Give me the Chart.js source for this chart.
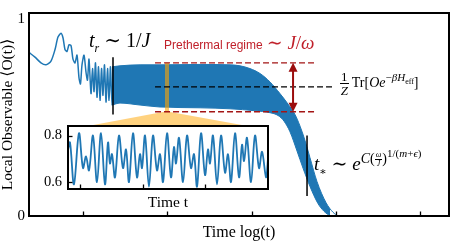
<!DOCTYPE html>
<html><head><meta charset="utf-8">
<script src="https://cdn.jsdelivr.net/npm/chart.js@4.4.1/dist/chart.umd.min.js"></script>
<style>
html,body{margin:0;padding:0;background:#fff;}
#wrap{position:relative;width:471px;height:252px;overflow:hidden;background:#fff;}
canvas{position:absolute;left:0;top:0;}
.ann{position:absolute;white-space:nowrap;font-family:'Liberation Serif','DejaVu Serif',serif;color:#000;line-height:1;}
.ann sub,.ann sup{line-height:0;}
.frac{display:inline-flex;flex-direction:column;align-items:center;vertical-align:middle;line-height:1;}
.frac>span:first-child{border-bottom:1px solid currentColor;padding:0 1px;}
</style></head>
<body><div id="wrap">
<canvas id="main" width="471" height="252"></canvas>
<canvas id="inset" width="471" height="252"></canvas>
<div class="ann" style="left:89px;top:30px;font-size:20px"><i>t</i><sub style="font-size:12px"><i>r</i></sub> ∼ 1/<i>J</i></div>
<div class="ann" style="left:164px;top:33px;color:#c0202a"><span style="font-family:'Liberation Sans',sans-serif;font-size:12px">Prethermal regime</span> <span style="font-size:19px">∼ <i>J</i>/<i>ω</i></span></div>
<div class="ann" style="left:340px;top:70px;font-size:14px"><span class="frac" style="font-size:13px"><span>1</span><span><i>Z</i></span></span> Tr[<i>Oe</i><sup style="font-size:11px">−<i>βH</i><sub style="font-size:8px">eff</sub></sup>]</div>
<div class="ann" style="left:314px;top:151px;font-size:19px"><i>t</i><sub style="font-size:11px">∗</sub> ∼ <i>e</i><sup style="font-size:14px"><i>C</i>(<span class="frac" style="font-size:8px"><span><i>ω</i></span><span><i>J</i></span></span>)<sup style="font-size:11px">1/(<i>m</i>+<i>ϵ</i>)</sup></sup></div>
</div>
<script>
// ---------- data ----------
const xTickValues = [1, 2, 3, 4, 5];
const yTickValues = [0, 1];
const yTickLabels = ['0', '1'];

// early-time signal (log t, <O>)
const earlyLogT = [0.359,0.430,0.501,0.561,0.620,0.668,0.703,0.739,0.763,0.786,0.810,0.834,0.858,0.881,0.905,0.929,0.953,0.970,0.988,1.012,1.036,1.053,1.071,1.095,1.113,1.131,1.148,1.166,1.184,1.202,1.220,1.237,1.255,1.273,1.291,1.309,1.326,1.344,1.362];
const earlyObs  = [0.830,0.806,0.777,0.767,0.786,0.845,0.908,0.927,0.903,0.845,0.835,0.869,0.864,0.796,0.777,0.816,0.699,0.670,0.767,0.816,0.728,0.689,0.796,0.621,0.748,0.631,0.777,0.602,0.757,0.587,0.748,0.612,0.767,0.578,0.748,0.587,0.757,0.563,0.757];

// envelope of fast oscillations (upper / lower)
const bandTopLogT = [1.344,1.439,1.677,1.914,2.389,2.745,2.864,2.982,3.101,3.220,3.338,3.433,3.516,3.576,3.635,3.694,3.777,3.884,3.967,4.026];
const bandTop     = [0.757,0.762,0.767,0.767,0.769,0.767,0.762,0.748,0.723,0.680,0.621,0.568,0.515,0.456,0.383,0.296,0.175,0.068,0.019,0.0];
const bandBotLogT = [1.344,1.439,1.677,1.914,2.389,2.745,3.042,3.220,3.315,3.386,3.457,3.540,3.611,3.694,3.789,3.860,3.932];
const bandBottom  = [0.563,0.573,0.563,0.553,0.549,0.544,0.534,0.524,0.510,0.481,0.427,0.330,0.243,0.150,0.063,0.024,0.0];

// reference levels
const prethermalUpper = 0.777, thermalLevel = 0.655, prethermalLower = 0.529;
const refStartLogT = 1.855, redEndLogT = 3.754, blackEndLogT = 3.967;
const arrowLogT = 3.493;
const trLogT = 1.356, trMarker = [0.806, 0.515];
const tstarLogT = 3.659, tstarMarker = [0.408, 0.102];
const zoomLogT = 1.997;
const coneLogT = [0.822, 1.961, 2.021, 3.196];
const coneObs  = [0.437, 0.529, 0.529, 0.437];

// inset: zoom of prethermal oscillations
const insetTime = [8.09,8.41,9.04,9.84,10.48,10.96,11.44,12.07,12.71,13.35,13.99,14.47,14.78,15.10,15.58,16.22,16.86,17.34,17.81,18.45,19.09,19.57,19.89,20.37,21.00,21.64,22.28,22.76,23.24,23.88,24.51,24.99,25.31,25.79,26.43,27.07,27.70,28.18,28.66,29.30,29.94,30.41,30.73,31.21,31.85,32.49,33.13,33.60,34.08,34.72,35.36,35.84,36.16,36.63,37.27,37.91,38.55,39.03,39.67,39.98];
const insetObs  = [0.74,0.77,0.59,0.81,0.66,0.71,0.65,0.80,0.60,0.81,0.59,0.77,0.68,0.72,0.62,0.80,0.66,0.74,0.60,0.81,0.62,0.72,0.66,0.80,0.58,0.80,0.65,0.72,0.60,0.81,0.62,0.75,0.68,0.79,0.60,0.80,0.66,0.72,0.58,0.81,0.63,0.74,0.68,0.80,0.59,0.80,0.64,0.72,0.60,0.81,0.62,0.76,0.69,0.79,0.60,0.80,0.66,0.73,0.62,0.70];
const insetXTicks = [10, 20, 30];
const insetYTicks = [0.6, 0.8];

// ---------- helpers ----------
const zip = (xs, ys) => xs.map((x, i) => ({x, y: ys[i]}));
const BLUE = '#1f77b4';
const SERIF = "'Liberation Serif','DejaVu Serif',serif";
Chart.defaults.font.family = SERIF;
Chart.defaults.color = '#000';

function frameAndTicks(opts) {
  return {
    id: 'frame' + opts.id,
    beforeDraw(chart) {
      if (opts.white) {
        const a = chart.chartArea, c = chart.ctx;
        c.save(); c.fillStyle = '#fff'; c.fillRect(a.left, a.top, a.right - a.left, a.bottom - a.top); c.restore();
      }
    },
    afterDraw(chart) {
      const a = chart.chartArea, c = chart.ctx;
      c.save();
      c.strokeStyle = '#000';
      c.lineWidth = 1.3;
      const xs = chart.scales.x;
      xs.ticks.forEach(t => {
        const px = Math.round(xs.getPixelForValue(t.value)) + 0.5;
        c.beginPath(); c.moveTo(px, a.bottom); c.lineTo(px, a.bottom - 4.5); c.stroke();
      });
      if (opts.yTicks) {
        const ys = chart.scales.y;
        ys.ticks.forEach(t => {
          const py = Math.round(ys.getPixelForValue(t.value)) + 0.5;
          c.beginPath(); c.moveTo(a.left, py); c.lineTo(a.left + 4.5, py); c.stroke();
        });
      }
      c.lineWidth = 2;
      c.strokeRect(a.left, a.top, a.right - a.left, a.bottom - a.top);
      c.restore();
    }
  };
}

const arrowPlugin = {
  id: 'arrowHeads',
  afterDatasetsDraw(chart) {
    const c = chart.ctx, xs = chart.scales.x, ys = chart.scales.y;
    const px = xs.getPixelForValue(arrowLogT);
    const yt = ys.getPixelForValue(prethermalUpper), yb = ys.getPixelForValue(prethermalLower);
    c.save(); c.fillStyle = '#9b0d0d';
    c.beginPath(); c.moveTo(px, yt); c.lineTo(px - 4.5, yt + 9); c.lineTo(px + 4.5, yt + 9); c.closePath(); c.fill();
    c.beginPath(); c.moveTo(px, yb); c.lineTo(px - 4.5, yb - 9); c.lineTo(px + 4.5, yb - 9); c.closePath(); c.fill();
    c.restore();
  }
};

const seg = (x0, x1, y0, y1) => [{x: x0, y: y0}, {x: x1, y: y1}];

new Chart(document.getElementById('main'), {
  type: 'line',
  data: {
    datasets: [
      {data: zip(coneLogT, coneObs), fill: 'shape', backgroundColor: 'rgba(255,165,0,0.5)', borderWidth: 0, pointRadius: 0, order: 10},
      {data: zip(bandTopLogT, bandTop), fill: '+1', backgroundColor: BLUE, borderColor: BLUE, borderWidth: 1, pointRadius: 0, cubicInterpolationMode: 'monotone', order: 8},
      {data: zip(bandBotLogT, bandBottom), fill: false, borderColor: BLUE, borderWidth: 1, pointRadius: 0, cubicInterpolationMode: 'monotone', order: 8},
      {data: zip(earlyLogT, earlyObs), fill: false, borderColor: BLUE, borderWidth: 1.5, pointRadius: 0, tension: 0.25, order: 7},
      {data: seg(zoomLogT, zoomLogT, prethermalUpper, prethermalLower), borderColor: 'rgba(255,165,0,0.6)', borderWidth: 4, pointRadius: 0, order: 6},
      {data: seg(refStartLogT, redEndLogT, prethermalUpper, prethermalUpper), borderColor: '#a31515', borderWidth: 1.3, borderDash: [6, 3], pointRadius: 0, order: 5},
      {data: seg(refStartLogT, redEndLogT, prethermalLower, prethermalLower), borderColor: '#a31515', borderWidth: 1.3, borderDash: [6, 3], pointRadius: 0, order: 5},
      {data: seg(refStartLogT, blackEndLogT, thermalLevel, thermalLevel), borderColor: '#000', borderWidth: 1.3, borderDash: [6, 3], pointRadius: 0, order: 5},
      {data: seg(trLogT, trLogT, trMarker[0], trMarker[1]), borderColor: '#000', borderWidth: 1.5, pointRadius: 0, order: 4},
      {data: seg(tstarLogT, tstarLogT, tstarMarker[0], tstarMarker[1]), borderColor: '#000', borderWidth: 1.5, pointRadius: 0, order: 4},
      {data: seg(arrowLogT, arrowLogT, prethermalUpper - 0.03, prethermalLower + 0.03), borderColor: '#9b0d0d', borderWidth: 2, pointRadius: 0, order: 3}
    ]
  },
  options: {
    responsive: false, animation: false, devicePixelRatio: 1,
    layout: {padding: {left: 0, top: 4, right: 22, bottom: 0}},
    plugins: {legend: {display: false}, tooltip: {enabled: false}},
    scales: {
      x: {
        type: 'linear', min: 0.359, max: 5.344,
        afterBuildTicks: s => { s.ticks = xTickValues.map(v => ({value: v})); },
        afterFit: s => { s.height = 36; },
        ticks: {display: false},
        grid: {display: false, drawTicks: false},
        border: {display: false},
        title: {display: true, text: 'Time log(t)', font: {size: 16, family: SERIF}, padding: {top: 0, bottom: 9.4}}
      },
      y: {
        type: 'linear', min: 0, max: 1.03,
        afterBuildTicks: s => { s.ticks = yTickValues.map(v => ({value: v})); },
        afterFit: s => { s.width = 29; },
        ticks: {padding: 4, font: {size: 15, family: SERIF}, callback: (v, i) => yTickLabels[i]},
        grid: {display: false, drawTicks: false},
        border: {display: false},
        title: {display: true, text: 'Local Observable ⟨O(t)⟩', font: {size: 15.5, family: SERIF}, padding: {top: -1, bottom: 0}}
      }
    }
  },
  plugins: [frameAndTicks({id: 'main', white: false, yTicks: false}), arrowPlugin]
});

new Chart(document.getElementById('inset'), {
  type: 'line',
  data: {datasets: [{data: zip(insetTime, insetObs), borderColor: BLUE, borderWidth: 1.8, pointRadius: 0, tension: 0.35, fill: false}]},
  options: {
    responsive: false, animation: false, devicePixelRatio: 1,
    layout: {padding: {left: 0, top: 126, right: 203, bottom: 0}},
    plugins: {legend: {display: false}, tooltip: {enabled: false}},
    scales: {
      x: {
        type: 'linear', min: 8.09, max: 39.98,
        afterBuildTicks: s => { s.ticks = insetXTicks.map(v => ({value: v})); },
        afterFit: s => { s.height = 63; },
        ticks: {display: false},
        grid: {display: false, drawTicks: false},
        border: {display: false},
        title: {display: true, text: 'Time t', font: {size: 15.5, family: SERIF}, padding: {top: 0, bottom: 39.7}}
      },
      y: {
        type: 'linear', min: 0.570, max: 0.841,
        afterBuildTicks: s => { s.ticks = insetYTicks.map(v => ({value: v})); },
        afterFit: s => { s.width = 68; },
        ticks: {padding: 6, font: {size: 14.5, family: SERIF}, callback: v => v.toFixed(1)},
        grid: {display: false, drawTicks: false},
        border: {display: false}
      }
    }
  },
  plugins: [frameAndTicks({id: 'inset', white: true, yTicks: true})]
});
</script>
</body></html>
